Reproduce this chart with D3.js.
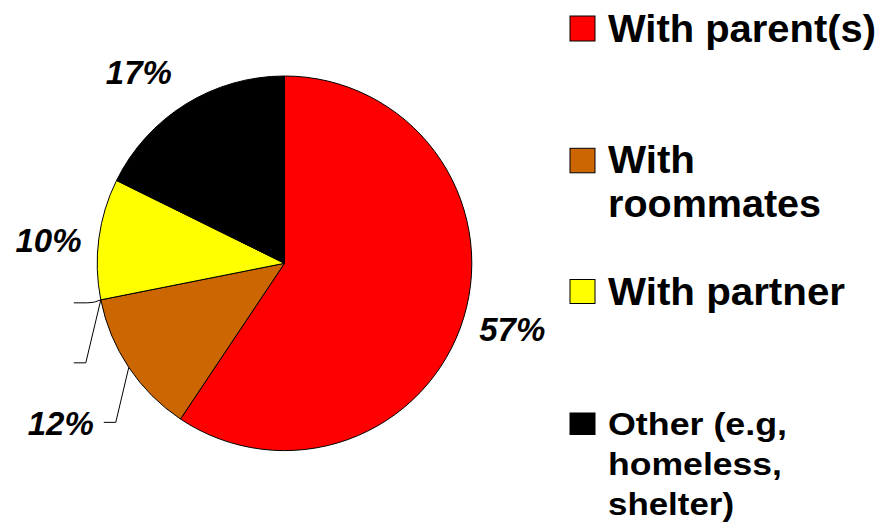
<!DOCTYPE html>
<html>
<head>
<meta charset="utf-8">
<script src="https://cdn.jsdelivr.net/npm/d3@7/dist/d3.min.js"></script>
<style>
  html, body { margin: 0; padding: 0; background: #fff; }
  svg { display: block; }
  text { font-family: "Liberation Sans", Arial, Helvetica, sans-serif; font-weight: bold; fill: #000; }
</style>
</head>
<body>
<svg id="chart" width="884" height="524"></svg>
<script>
// ---- data ----
const categories = ["With parent(s)", "With roommates", "With partner", "Other (e.g, homeless, shelter)"];
const values = [57, 12, 10, 17];
const valueLabels = ["57%", "12%", "10%", "17%"];
const colors = ["#FF0000", "#CC6600", "#FFFF00", "#000000"];
// legend text split into lines
const legendLines = [["With parent(s)"], ["With", "roommates"], ["With partner"], ["Other (e.g,", "homeless,", "shelter)"]];

// ---- layout ----
const svg = d3.select("#chart");
const cx = 284.5, cy = 263.3, R = 187.3;
const g = svg.append("g").attr("transform", `translate(${cx},${cy})`);

const pie = d3.pie().sort(null).value(d => d)(values);
const arc = d3.arc().innerRadius(0).outerRadius(R);

g.selectAll("path.slice").data(pie).join("path")
  .attr("class", "slice")
  .attr("d", arc)
  .attr("fill", (d, i) => colors[i])
  .attr("stroke", "#000")
  .attr("stroke-width", 1);

// helper: point on a circle at angle a (clockwise from 12 o'clock)
const pt = (a, r) => [r * Math.sin(a), -r * Math.cos(a)];
const mid = d => (d.startAngle + d.endAngle) / 2;

// value labels (ink centred at an outer radius, with small placement nudges)
const labelR = 238;
const labelFS = 33;
const labelNudge = [[0, -3], null, [0, 8], [-20, 11]];
pie.forEach((d, i) => {
  if (!labelNudge[i]) return; // leader-line label drawn below
  const [x, y] = pt(mid(d), labelR);
  g.append("text")
    .attr("x", x + labelNudge[i][0])
    .attr("y", y + labelNudge[i][1] + labelFS * 0.36)
    .attr("text-anchor", "middle")
    .attr("font-style", "italic")
    .attr("font-size", labelFS)
    .text(valueLabels[i]);
});

// label with leader line for the roommates slice
{
  const d = pie[1];
  const [x0, y0] = pt(mid(d), R);
  const x1 = x0 - 13, y1 = y0 + 55;
  const x2 = x1 - 12;
  g.append("path")
    .attr("d", `M${x0},${y0}L${x1},${y1}L${x2},${y1}`)
    .attr("fill", "none").attr("stroke", "#000").attr("stroke-width", 1);
  g.append("text")
    .attr("x", x2 - 10).attr("y", y1 + 1 + labelFS * 0.36)
    .attr("text-anchor", "end")
    .attr("font-style", "italic")
    .attr("font-size", labelFS)
    .text(valueLabels[1]);
}

// two empty leader lines meeting at the roommates / partner boundary
{
  const [bx, by] = pt(pie[1].endAngle, R);
  g.append("path")
    .attr("d", `M${bx},${by}Q${bx - 6},${by + 3} ${bx - 13},${by + 3}L${bx - 27},${by + 3}`)
    .attr("fill", "none").attr("stroke", "#000").attr("stroke-width", 1);
  g.append("path")
    .attr("d", `M${bx},${by}L${bx - 15},${by + 63}L${bx - 27},${by + 63}`)
    .attr("fill", "none").attr("stroke", "#000").attr("stroke-width", 1);
}

// ---- legend ----
const legendX = 570;
const legendItems = [
  { top: 16, sw: 25, sh: 25, fs: 38, lh: 44, base: 41.7, widths: [268] },
  { top: 148.3, sw: 25, sh: 24.5, fs: 38, lh: 44, base: 173.3, widths: [87, 213] },
  { top: 279.5, sw: 25, sh: 24, fs: 38, lh: 44, base: 305, widths: [237] },
  { top: 413, sw: 25, sh: 21.5, fs: 31, lh: 40, base: 434.5, widths: [179, 174, 126] }
];
const leg = svg.append("g");
legendItems.forEach((it, i) => {
  leg.append("rect")
    .attr("x", legendX).attr("y", it.top)
    .attr("width", it.sw).attr("height", it.sh)
    .attr("fill", colors[i]).attr("stroke", "#000").attr("stroke-width", 1);
  legendLines[i].forEach((line, j) => {
    leg.append("text")
      .attr("x", 608)
      .attr("y", it.base + j * it.lh)
      .attr("font-size", it.fs)
      .attr("textLength", it.widths[j])
      .attr("lengthAdjust", "spacingAndGlyphs")
      .text(line);
  });
});
</script>
</body>
</html>
